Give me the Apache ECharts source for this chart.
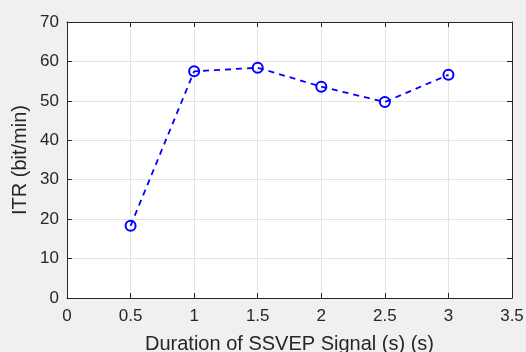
<!DOCTYPE html>
<html><head><meta charset="utf-8">
<script src="https://cdn.jsdelivr.net/npm/echarts@6/dist/echarts.min.js"></script>
<style>html,body{margin:0;padding:0;background:#f0f0f0}#c{width:526px;height:352px}</style>
</head><body><div id="c"></div>
<script>
const durations = [0.5, 1, 1.5, 2, 2.5, 3];
const itr = [18.3, 57.5, 58.4, 53.6, 49.7, 56.6];
const xLabel = 'Duration of SSVEP Signal (s) (s)';
const yLabel = 'ITR (bit/min)';

const font = 'Liberation Sans, Arial, Helvetica, sans-serif';
const axisCol = '#262626';
const chart = echarts.init(document.getElementById('c'), null, {renderer: 'canvas'});
const common = {
  axisLine: {show: true, onZero: false, lineStyle: {color: axisCol, width: 1}},
  axisTick: {show: true, inside: true, length: 5, lineStyle: {color: axisCol}},
};
chart.setOption({
  backgroundColor: '#f0f0f0',
  animation: false,
  grid: {left: 67, right: 14, top: 22, bottom: 54, show: true, backgroundColor: '#ffffff', borderWidth: 0,
         containLabel: false, outerBoundsMode: 'none'},
  xAxis: [{
    type: 'value', min: 0, max: 3.5, interval: 0.5, position: 'bottom',
    ...common,
    axisLabel: {color: axisCol, fontSize: 17, fontFamily: font, margin: 10},
    splitLine: {show: true, lineStyle: {color: '#e3e3e3', width: 1}},
    name: xLabel, nameLocation: 'middle', nameGap: 36, nameMoveOverlap: false,
    nameTextStyle: {color: axisCol, fontSize: 20, fontFamily: font}
  }, {
    type: 'value', min: 0, max: 3.5, interval: 0.5, position: 'top',
    ...common, axisLabel: {show: false}, splitLine: {show: false}
  }],
  yAxis: [{
    type: 'value', min: 0, max: 70, interval: 10, position: 'left',
    ...common,
    axisLabel: {color: axisCol, fontSize: 17, fontFamily: font, margin: 8},
    splitLine: {show: true, lineStyle: {color: '#e3e3e3', width: 1}},
    name: yLabel, nameLocation: 'middle', nameGap: 37, nameRotate: 90, nameMoveOverlap: false,
    nameTextStyle: {color: axisCol, fontSize: 20, fontFamily: font}
  }, {
    type: 'value', min: 0, max: 70, interval: 10, position: 'right',
    ...common, axisLabel: {show: false}, splitLine: {show: false}
  }],
  series: [{
    type: 'line',
    data: durations.map((d, i) => [d, itr[i]]),
    symbol: 'circle', symbolSize: 10,
    lineStyle: {color: '#0000ff', width: 1.8, type: [6, 5]},
    itemStyle: {color: 'transparent', borderColor: '#0000ff', borderWidth: 2},
    emphasis: {disabled: true}
  }]
});
</script></body></html>
